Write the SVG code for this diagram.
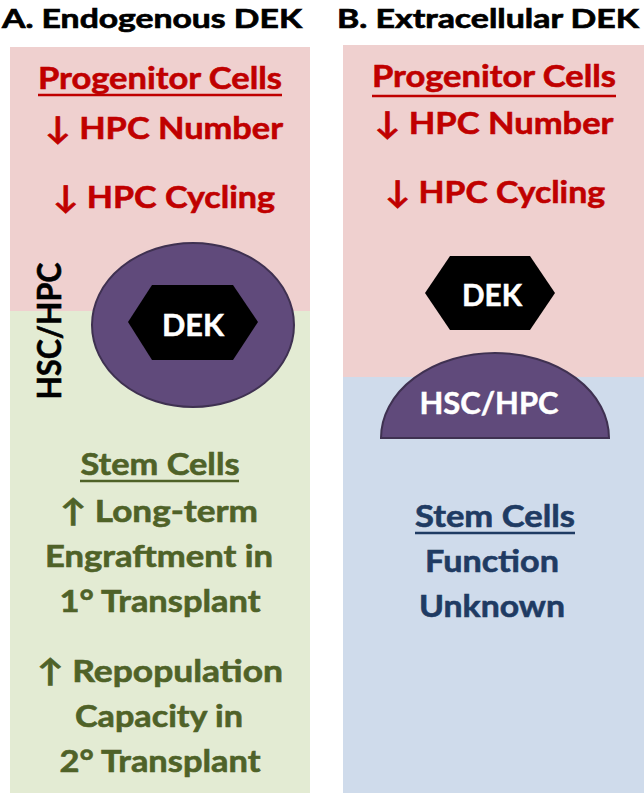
<svg xmlns="http://www.w3.org/2000/svg" width="644" height="793" viewBox="0 0 644 793">
<style>
text{font-family:Lato,"DejaVu Sans",sans-serif;font-weight:bold;}
.t{font-size:27px;fill:#000;stroke:#000;stroke-width:0.7;}
.r{font-size:31px;fill:#C00000;stroke:#C00000;stroke-width:0.6;text-anchor:middle;}
.g{font-size:31px;fill:#4F6228;stroke:#4F6228;stroke-width:0.6;text-anchor:middle;}
.b{font-size:31px;fill:#1F3B63;stroke:#1F3B63;stroke-width:0.6;text-anchor:middle;}
.w{font-size:31px;fill:#fff;stroke:#fff;stroke-width:0.5;text-anchor:middle;}
.cell{fill:#604A7B;stroke:#3F3151;stroke-width:2;}
</style>
<rect width="644" height="793" fill="#fff"/>
<g id="panelA">
<text class="t" x="2" y="28" textLength="300" lengthAdjust="spacingAndGlyphs">A. Endogenous DEK</text>
<rect x="10" y="47" width="300" height="264" fill="#EFD0CF"/>
<rect x="10" y="311" width="300" height="482" fill="#E3EBD3"/>
<g id="A-progenitor">
<text class="r" x="160" y="89" textLength="244" lengthAdjust="spacingAndGlyphs">Progenitor Cells</text>
<line x1="38" y1="95" x2="282" y2="95" stroke="#C00000" stroke-width="2.5"/>
<text class="r" x="164" y="139" textLength="238" lengthAdjust="spacingAndGlyphs">↓ HPC Number</text>
<text class="r" x="164" y="208" textLength="222" lengthAdjust="spacingAndGlyphs">↓ HPC Cycling</text>
</g>
<g id="A-cell">
<ellipse class="cell" cx="193" cy="325" rx="101" ry="82"/>
<polygon points="128,322 152,285 233,285 258,322 233,360 152,360" fill="#000"/>
<text class="w" x="193" y="336" textLength="62" lengthAdjust="spacingAndGlyphs">DEK</text>
</g>
<text id="A-label" x="0" y="0" transform="translate(61,331) rotate(-90)" text-anchor="middle" font-size="33" fill="#000" stroke="#000" stroke-width="0.6" textLength="137" lengthAdjust="spacingAndGlyphs">HSC/HPC</text>
<g id="A-stem">
<text class="g" x="160" y="475" textLength="159" lengthAdjust="spacingAndGlyphs">Stem Cells</text>
<line x1="80" y1="481" x2="239" y2="481" stroke="#4F6228" stroke-width="2.5"/>
<text class="g" x="159" y="522" textLength="198" lengthAdjust="spacingAndGlyphs">↑ Long-term</text>
<text class="g" x="159" y="567" textLength="228" lengthAdjust="spacingAndGlyphs">Engraftment in</text>
<text class="g" x="160" y="612" textLength="201" lengthAdjust="spacingAndGlyphs">1° Transplant</text>
<text class="g" x="160" y="682" textLength="246" lengthAdjust="spacingAndGlyphs">↑ Repopulation</text>
<text class="g" x="159" y="727" textLength="168" lengthAdjust="spacingAndGlyphs">Capacity in</text>
<text class="g" x="160" y="772" textLength="201" lengthAdjust="spacingAndGlyphs">2° Transplant</text>
</g>
</g>
<g id="panelB">
<text class="t" x="337" y="28" textLength="302" lengthAdjust="spacingAndGlyphs">B. Extracellular DEK</text>
<rect x="343" y="45" width="301" height="332" fill="#EFD0CF"/>
<rect x="343" y="377" width="301" height="416" fill="#CFDBEB"/>
<g id="B-progenitor">
<text class="r" x="494" y="87" textLength="244" lengthAdjust="spacingAndGlyphs">Progenitor Cells</text>
<line x1="372" y1="96" x2="616" y2="96" stroke="#C00000" stroke-width="2.5"/>
<text class="r" x="494" y="134" textLength="239" lengthAdjust="spacingAndGlyphs">↓ HPC Number</text>
<text class="r" x="495" y="203" textLength="220" lengthAdjust="spacingAndGlyphs">↓ HPC Cycling</text>
</g>
<g id="B-dek">
<polygon points="425,293 450,256 530,256 555,293 530,330 450,330" fill="#000"/>
<text class="w" x="492" y="306" textLength="60" lengthAdjust="spacingAndGlyphs">DEK</text>
</g>
<g id="B-cell">
<path class="cell" d="M381,438 A114,85 0 0 1 609,438 Z"/>
<text class="w" x="489" y="414" textLength="139" lengthAdjust="spacingAndGlyphs">HSC/HPC</text>
</g>
<g id="B-stem">
<text class="b" x="495" y="527" textLength="160" lengthAdjust="spacingAndGlyphs">Stem Cells</text>
<line x1="415" y1="533" x2="575" y2="533" stroke="#1F3B63" stroke-width="2.5"/>
<text class="b" x="492" y="572" textLength="134" lengthAdjust="spacingAndGlyphs">Function</text>
<text class="b" x="492" y="617" textLength="146" lengthAdjust="spacingAndGlyphs">Unknown</text>
</g>
</g>
<g id="connectors"/>
</svg>
